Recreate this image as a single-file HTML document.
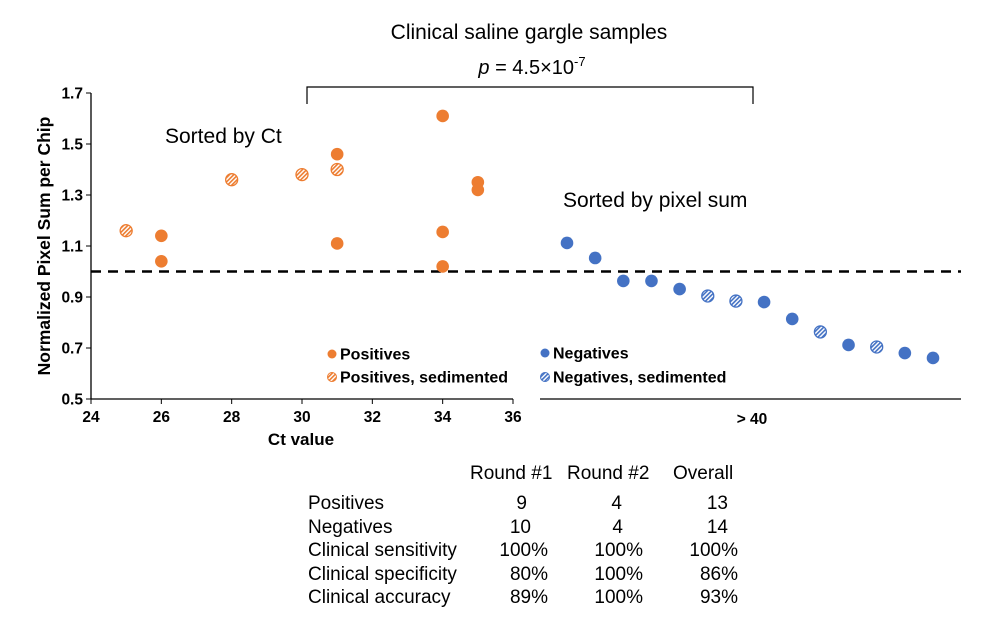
<!DOCTYPE html>
<html><head><meta charset="utf-8"><style>
body{margin:0;background:#fff;}
svg{display:block;font-family:"Liberation Sans",Arial,sans-serif;}
</style></head><body>
<svg id="c" width="1000" height="625" viewBox="0 0 1000 625">
<defs>
<pattern id="ho" width="3" height="3" patternUnits="userSpaceOnUse" patternTransform="rotate(45)"><rect width="3" height="3" fill="#fff"/><rect width="1.6" height="3" fill="#ED7D31"/></pattern>
<pattern id="hb" width="3" height="3" patternUnits="userSpaceOnUse" patternTransform="rotate(45)"><rect width="3" height="3" fill="#fff"/><rect width="1.6" height="3" fill="#4472C4"/></pattern>
</defs>
<text x="529" y="39" font-size="21" text-anchor="middle">Clinical saline gargle samples</text>
<text x="532" y="74" font-size="20" text-anchor="middle"><tspan font-style="italic">p</tspan> = 4.5×10<tspan font-size="13" dy="-8">-7</tspan></text>
<path d="M307,104 V87 H753 V104" fill="none" stroke="#000" stroke-width="1.2"/>
<g id="axes"></g>
<g id="marks"></g>
<text x="165" y="143" font-size="21">Sorted by Ct</text>
<text x="563" y="207" font-size="21">Sorted by pixel sum</text>
<text x="301" y="445" font-size="17" font-weight="bold" text-anchor="middle">Ct value</text>
<text x="50" y="246" font-size="17.5" font-weight="bold" text-anchor="middle" transform="rotate(-90 50 246)">Normalized Pixel Sum per Chip</text>
<text x="752" y="424" font-size="15.5" font-weight="bold" text-anchor="middle">&gt; 40</text>
<g><circle cx="332" cy="354" r="4.5" fill="#ED7D31"/><text x="340" y="359.5" font-size="16" font-weight="bold">Positives</text></g>
<g><circle cx="332" cy="377" r="4.5" fill="url(#ho)" stroke="#ED7D31" stroke-width="1"/><text x="340" y="382.5" font-size="16" font-weight="bold">Positives, sedimented</text></g>
<g><circle cx="545" cy="353" r="4.5" fill="#4472C4"/><text x="553" y="358.5" font-size="16" font-weight="bold">Negatives</text></g>
<g><circle cx="545" cy="377" r="4.5" fill="url(#hb)" stroke="#4472C4" stroke-width="1"/><text x="553" y="382.5" font-size="16" font-weight="bold">Negatives, sedimented</text></g>
<g font-size="19">
<text x="470" y="479">Round #1</text><text x="567" y="479">Round #2</text><text x="673" y="479">Overall</text>
<g text-anchor="start">
<text x="308" y="509">Positives</text><text x="308" y="533">Negatives</text><text x="308" y="556">Clinical sensitivity</text><text x="308" y="580">Clinical specificity</text><text x="308" y="603">Clinical accuracy</text></g>
<g text-anchor="end">
<text x="527" y="509">9</text><text x="622" y="509">4</text><text x="728" y="509">13</text>
<text x="531" y="533">10</text><text x="623" y="533">4</text><text x="728" y="533">14</text>
<text x="548" y="556">100%</text><text x="643" y="556">100%</text><text x="738" y="556">100%</text>
<text x="548" y="580">80%</text><text x="643" y="580">100%</text><text x="738" y="580">86%</text>
<text x="548" y="603">89%</text><text x="643" y="603">100%</text><text x="738" y="603">93%</text></g>
</g>
</svg>
<script>
const posCt=[25,26,26,28,30,31,31,31,34,34,34,35,35];
const posVal=[1.16,1.14,1.04,1.36,1.38,1.46,1.40,1.11,1.61,1.155,1.02,1.35,1.32];
const posSed=[1,0,0,1,1,0,1,0,0,0,0,0,0];
const negVal=[1.112,1.053,0.963,0.963,0.931,0.904,0.884,0.88,0.814,0.763,0.712,0.704,0.68,0.661];
const negSed=[0,0,0,0,0,1,1,0,0,1,0,1,0,0];
const xTicks=[24,26,28,30,32,34,36];
const yTicks=[0.5,0.7,0.9,1.1,1.3,1.5,1.7];
const threshold=1.0;
const NS="http://www.w3.org/2000/svg";
const X=v=>91+(v-24)*(513-91)/12;
const Y=v=>399-(v-0.5)*(399-93)/1.2;
const XN=i=>567+i*(933-567)/(negVal.length-1);
function mk(t,a,p){const e=document.createElementNS(NS,t);for(const k in a)e.setAttribute(k,a[k]);p.appendChild(e);return e;}
const ax=document.getElementById('axes'),mg=document.getElementById('marks');
let l=mk('line',{x1:91,y1:93,x2:91,y2:399,stroke:'#000','stroke-width':1.3},ax);


l=mk('line',{x1:91,y1:399,x2:513,y2:399,stroke:'#000','stroke-width':1.3},ax);


l=mk('line',{x1:540,y1:399,x2:961,y2:399,stroke:'#000','stroke-width':1.3},ax);


yTicks.forEach(v=>{mk('line',{x1:86,x2:91,y1:Y(v),y2:Y(v),stroke:'#000'},ax);
const t=mk('text',{x:83,y:Y(v)+5.5,'font-size':15.5,'font-weight':'bold','text-anchor':'end'},ax);t.textContent=v.toFixed(1);

});
xTicks.forEach(v=>{mk('line',{x1:X(v),x2:X(v),y1:399,y2:404,stroke:'#000'},ax);
const t=mk('text',{x:X(v),y:422,'font-size':15.5,'font-weight':'bold','text-anchor':'middle'},ax);t.textContent=v;

});
l=mk('line',{x1:91,x2:961,y1:Y(threshold),y2:Y(threshold),stroke:'#000','stroke-width':2.5,'stroke-dasharray':'10,7'},ax);


posCt.forEach((c,i)=>{const s=posSed[i];const e=mk('circle',{cx:X(c),cy:Y(posVal[i]),r:s?6:6.3,fill:s?'url(#ho)':'#ED7D31',stroke:s?'#ED7D31':'none','stroke-width':1.3},mg);

});
negVal.forEach((v,i)=>{const s=negSed[i];const e=mk('circle',{cx:XN(i),cy:Y(v),r:s?6:6.3,fill:s?'url(#hb)':'#4472C4',stroke:s?'#4472C4':'none','stroke-width':1.3},mg);

});
</script>
</body></html>
